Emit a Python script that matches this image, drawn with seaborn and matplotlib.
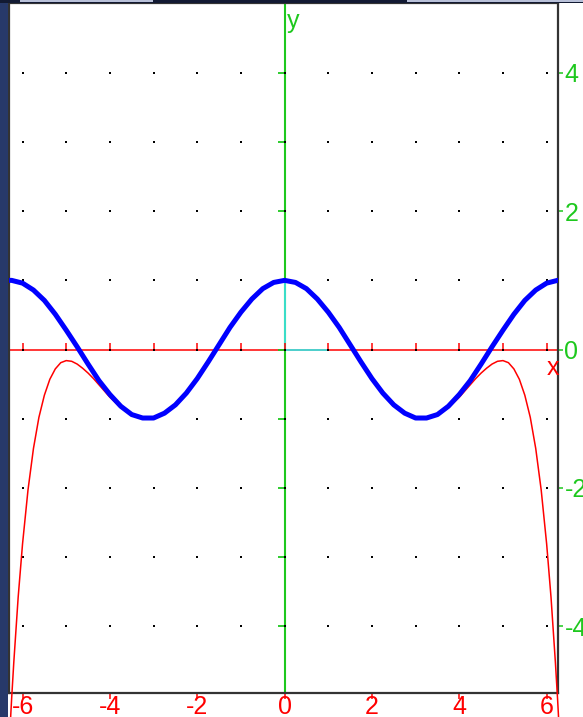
import numpy as np
import pandas as pd
import matplotlib
matplotlib.use("Agg")
import matplotlib.pyplot as plt
from matplotlib.patches import Rectangle
import seaborn as sns

# cos(x) curve
cos_x = [-6.31, -6.25, -6.0, -5.75, -5.5, -5.25, -5.0, -4.75, -4.5, -4.25, -4.0,
         -3.75, -3.5, -3.25, -3.0, -2.75, -2.5, -2.25, -2.0, -1.75, -1.5, -1.25,
         -1.0, -0.75, -0.5, -0.25, 0.0, 0.25, 0.5, 0.75, 1.0, 1.25, 1.5, 1.75,
         2.0, 2.25, 2.5, 2.75, 3.0, 3.25, 3.5, 3.75, 4.0, 4.25, 4.5, 4.75, 5.0,
         5.25, 5.5, 5.75, 6.0, 6.25, 6.26]
cos_y = [1.00, 1.00, 0.96, 0.86, 0.71, 0.51, 0.28, 0.04, -0.21, -0.45, -0.65,
         -0.82, -0.94, -0.99, -0.99, -0.92, -0.80, -0.63, -0.42, -0.18, 0.07, 0.32,
         0.54, 0.73, 0.88, 0.97, 1.00, 0.97, 0.88, 0.73, 0.54, 0.32, 0.07, -0.18,
         -0.42, -0.63, -0.80, -0.92, -0.99, -0.99, -0.94, -0.82, -0.65, -0.45, -0.21, 0.04, 0.28,
         0.51, 0.71, 0.86, 0.96, 1.00, 1.00]

# degree-10 Taylor polynomial of cos(x)
poly_x = [-6.3, -6.25, -6.2, -6.1, -6.0, -5.875, -5.75, -5.625, -5.5, -5.375,
          -5.25, -5.125, -5.0, -4.875, -4.75, -4.625, -4.5, -4.375, -4.25, -4.0,
          -3.75, -3.5, -3.25, -3.0, -2.75, -2.5, -2.25, -2.0, -1.75, -1.5, -1.25,
          -1.0, -0.75, -0.5, -0.25, 0.0, 0.25, 0.5, 0.75, 1.0, 1.25, 1.5, 1.75,
          2.0, 2.25, 2.5, 2.75, 3.0, 3.25, 3.5, 3.75, 4.0, 4.25, 4.375, 4.5,
          4.625, 4.75, 4.875, 5.0, 5.125, 5.25, 5.375, 5.5, 5.625, 5.75, 5.875,
          6.0, 6.1, 6.2, 6.25, 6.3]
poly_y = [-5.64, -5.05, -4.52, -3.58, -2.81, -2.03, -1.43, -0.98, -0.66, -0.43,
          -0.28, -0.19, -0.16, -0.17, -0.21, -0.27, -0.34, -0.42, -0.51, -0.69,
          -0.84, -0.94, -1.00, -0.99, -0.92, -0.80, -0.63, -0.42, -0.18, 0.07, 0.32,
          0.54, 0.73, 0.88, 0.97, 1.00, 0.97, 0.88, 0.73, 0.54, 0.32, 0.07, -0.18,
          -0.42, -0.63, -0.80, -0.92, -0.99, -1.00, -0.94, -0.84, -0.69, -0.51, -0.42, -0.34,
          -0.27, -0.21, -0.17, -0.16, -0.19, -0.28, -0.43, -0.66, -0.98, -1.43, -2.03,
          -2.81, -3.58, -4.52, -5.05, -5.64]

# axis ticks and labels
x_ticks = [-6, -4, -2, 0, 2, 4, 6]
x_labels = ["-6", "-4", "-2", "0", "2", "4", "6"]
y_ticks = [-4, -2, 0, 2, 4]
y_labels = ["-4", "-2", "0", "2", "4"]
grid_x = list(range(-6, 7))
grid_y = list(range(-4, 5))

sns.set_style("white")
plt.rcParams["font.family"] = ["Liberation Sans", "DejaVu Sans"]

W, H = 583, 717
fig = plt.figure(figsize=(W / 100, H / 100), dpi=100)
fig.patch.set_facecolor("white")

# window chrome: left strip and top bar
fig.patches.append(Rectangle((0, 0), 8 / W, 1, transform=fig.transFigure,
                             facecolor="#27396a", edgecolor="none", zorder=0))
fig.patches.append(Rectangle((0, 1 - 3 / H), 1, 3 / H, transform=fig.transFigure,
                             facecolor="#121a33", edgecolor="none", zorder=0))
for x0, x1 in [(20, 153), (407, 583)]:
    fig.patches.append(Rectangle((x0 / W, 1 - 2 / H), (x1 - x0) / W, 2 / H,
                                 transform=fig.transFigure, facecolor="#b9c1d9",
                                 edgecolor="none", zorder=1))

ax = fig.add_axes([9 / W, 23.7 / H, 549 / W, 690.3 / H])
ax.set_xlim(-6.31, 6.26)
ax.set_ylim(-4.97, 5.01)
ax.set_facecolor("white")

RED = "#ff0000"
GREEN = "#1ec81e"
BLUE = "#0000ff"
CYAN = "#3ee0dc"

# coordinate axes
ax.axhline(0, color=RED, lw=1.1, zorder=2)
ax.axvline(0, color=GREEN, lw=1.5, zorder=2)
ax.plot([0, 0], [0, 1], color=CYAN, lw=1.3, zorder=3)
ax.plot([0, 1], [0, 0], color=CYAN, lw=1.3, zorder=3)

# small unit ticks on the coordinate axes
ax.plot(grid_x, [0] * len(grid_x), ls="none", marker=2, ms=5, mew=1.1,
        color=RED, zorder=3)
ax.plot([0] * len(grid_y), grid_y, ls="none", marker=0, ms=5, mew=1.3,
        color=GREEN, zorder=3)

# dotted grid
gx, gy = np.meshgrid(grid_x, grid_y)
dots = pd.DataFrame({"x": gx.ravel(), "y": gy.ravel()})
sns.scatterplot(data=dots, x="x", y="y", marker="s", s=2.2, color="black",
                linewidth=0, ax=ax, zorder=4)

# Taylor polynomial (red) and cosine (blue)
poly = pd.DataFrame({"x": poly_x, "y": poly_y})
sns.lineplot(data=poly, x="x", y="y", sort=False, estimator=None, color=RED,
             lw=1.1, ax=ax, zorder=5, clip_on=False)
curve = pd.DataFrame({"x": cos_x, "y": cos_y})
sns.lineplot(data=curve, x="x", y="y", sort=False, estimator=None, color=BLUE,
             lw=3.6, ax=ax, zorder=6)

ax.text(6.15, -0.26, "x", color=RED, fontsize=18, ha="center", va="center")
ax.text(0.19, 4.75, "y", color=GREEN, fontsize=18, ha="center", va="center")

# frame and tick labels
for s in ax.spines.values():
    s.set_color("#333333")
    s.set_linewidth(1.6)
ax.set_xticks(x_ticks)
ax.set_xticklabels(x_labels)
ax.yaxis.tick_right()
ax.set_yticks(y_ticks)
ax.set_yticklabels(y_labels)
ax.tick_params(axis="x", direction="out", length=4.3, width=1.1, color=RED,
               labelcolor=RED, labelsize=18, pad=-3, bottom=True)
ax.tick_params(axis="y", direction="out", length=3.6, width=1.1, color=GREEN,
               labelcolor=GREEN, labelsize=18, pad=1, right=True, left=False)
ax.set_xlabel("")
ax.set_ylabel("")

fig.savefig("out.png", dpi=100)
